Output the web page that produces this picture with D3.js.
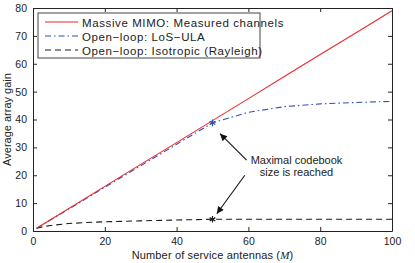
<!DOCTYPE html>
<html>
<head>
<meta charset="utf-8">
<script src="https://cdn.jsdelivr.net/npm/d3@7"></script>
<style>
  body { margin: 0; background: #fff; }
  svg { display: block; font-family: "Liberation Sans", Arial, sans-serif; }
</style>
</head>
<body>
<svg id="chart" width="415" height="263"></svg>
<script>
// number of service antennas
var antennas = [1, 10, 20, 30, 40, 50, 60, 70, 80, 90, 100];
// average array gain
var measured = [1, 8.1, 16.0, 23.9, 31.7, 39.6, 47.5, 55.4, 63.3, 71.1, 79.0];
var losUla = [1, 7.9, 15.7, 23.4, 31.1, 38.8, 42.6, 44.6, 45.6, 46.1, 46.5];
var isoAntennas = [1, 3, 5, 10, 15, 20, 30, 40, 50, 60, 70, 80, 90, 100];
var isotropic = [1, 1.6, 2.0, 2.7, 3.05, 3.3, 3.65, 3.95, 4.2, 4.2, 4.2, 4.2, 4.2, 4.2];
var xTicks = [0, 20, 40, 60, 80, 100];
var yTicks = [0, 10, 20, 30, 40, 50, 60, 70, 80];
var legendNames = ["Massive MIMO: Measured channels", "Open\u2212loop: LoS\u2212ULA", "Open\u2212loop: Isotropic (Rayleigh)"];
var codebookM = 50;

var margin = {top: 8, right: 23, bottom: 32, left: 33};
var width = 415 - margin.left - margin.right;
var height = 263 - margin.top - margin.bottom;

var svg = d3.select("#chart");
var g = svg.append("g")
    .attr("transform", "translate(" + margin.left + "," + margin.top + ")");

var x = d3.scaleLinear().domain([0, 100]).range([0, width]);
var y = d3.scaleLinear().domain([0, 80]).range([height, 0]);

/* axes, matlab style: ticks inside on all four sides */
var tickLen = 4;
g.append("g").attr("class", "ax")
    .attr("transform", "translate(0," + height + ")")
    .call(d3.axisBottom(x).tickValues(xTicks).tickSizeInner(-tickLen).tickSizeOuter(0).tickPadding(7));
g.append("g").attr("class", "ax")
    .call(d3.axisTop(x).tickValues(xTicks).tickSizeInner(-tickLen).tickSizeOuter(0).tickFormat(""));
g.append("g").attr("class", "ax")
    .call(d3.axisLeft(y).tickValues(yTicks).tickSizeInner(-tickLen).tickSizeOuter(0).tickPadding(6));
g.append("g").attr("class", "ax")
    .attr("transform", "translate(" + width + ",0)")
    .call(d3.axisRight(y).tickValues(yTicks).tickSizeInner(-tickLen).tickSizeOuter(0).tickFormat(""));

g.selectAll(".ax path.domain").attr("stroke", "#222").attr("stroke-width", 1);
g.selectAll(".ax line").attr("stroke", "#222");
g.selectAll(".ax text").attr("font-size", "10.5px").attr("fill", "#222")
    .attr("font-family", "Liberation Sans, Arial, sans-serif");

/* curves */
var line = d3.line()
    .x(function(d) { return x(d[0]); })
    .y(function(d) { return y(d[1]); });

var series = [
    {m: antennas, v: measured, color: "#ec2a2e", dash: null},
    {m: antennas, v: losUla, color: "#2f4fb2", dash: "6,3,1.5,3"},
    {m: isoAntennas, v: isotropic, color: "#1a1a1a", dash: "6,4"}
];

// draw isotropic first, then LoS, red on top
[2, 1, 0].forEach(function(i) {
    var s = series[i];
    g.append("path")
        .datum(d3.zip(s.m, s.v))
        .attr("fill", "none")
        .attr("stroke", s.color)
        .attr("stroke-width", 1.1)
        .attr("stroke-dasharray", s.dash)
        .attr("d", line);
});

/* asterisk markers where the codebook saturates */
var star = d3.symbol().type(d3.symbolAsterisk).size(30);
[
    {v: losUla[antennas.indexOf(codebookM)], color: "#2f4fb2"},
    {v: isotropic[isoAntennas.indexOf(codebookM)], color: "#1a1a1a"}
].forEach(function(p) {
    g.append("path")
        .attr("d", star)
        .attr("transform", "translate(" + x(codebookM) + "," + y(p.v) + ")")
        .attr("fill", "none")
        .attr("stroke", p.color)
        .attr("stroke-width", 1.2);
});

/* annotation */
svg.append("defs").append("marker")
    .attr("id", "head")
    .attr("viewBox", "0 0 10 10")
    .attr("refX", 10).attr("refY", 5)
    .attr("markerWidth", 10).attr("markerHeight", 7)
    .attr("markerUnits", "userSpaceOnUse")
    .attr("orient", "auto")
    .append("path")
    .attr("d", "M0,0L10,5L0,10z")
    .attr("fill", "#111");

var arrows = [
    {from: [59.5, 25.4], to: [52.1, 34.9]},
    {from: [59.0, 20.0], to: [51.2, 6.2]}
];
arrows.forEach(function(a) {
    g.append("line")
        .attr("x1", x(a.from[0])).attr("y1", y(a.from[1]))
        .attr("x2", x(a.to[0])).attr("y2", y(a.to[1]))
        .attr("stroke", "#111")
        .attr("stroke-width", 1.1)
        .attr("marker-end", "url(#head)");
});

var note = g.append("text")
    .attr("text-anchor", "middle")
    .attr("font-size", "11px")
    .attr("fill", "#222");
note.append("tspan").attr("x", x(73.4)).attr("y", y(25.4) + 4).text("Maximal codebook");
note.append("tspan").attr("x", x(73.4)).attr("y", y(21.2) + 4).text("size is reached");

/* legend */
var leg = g.append("g").attr("transform", "translate(5,5)");
leg.append("rect")
    .attr("width", 222).attr("height", 45)
    .attr("fill", "#fff")
    .attr("stroke", "#444")
    .attr("stroke-width", 1);

legendNames.forEach(function(name, i) {
    var row = leg.append("g").attr("transform", "translate(0," + (9 + i * 14) + ")");
    row.append("line")
        .attr("x1", 7).attr("x2", 40)
        .attr("stroke", series[i].color)
        .attr("stroke-width", 1.1)
        .attr("stroke-dasharray", series[i].dash);
    row.append("text")
        .attr("x", 44).attr("y", 4.5)
        .attr("font-size", "11.5px")
        .attr("letter-spacing", "0.6px")
        .attr("fill", "#222")
        .text(name);
});

/* axis titles */
var xt = svg.append("text")
    .attr("x", margin.left + width / 2)
    .attr("y", 259)
    .attr("text-anchor", "middle")
    .attr("font-size", "11px")
    .attr("letter-spacing", "0.15px")
    .attr("fill", "#222");
xt.append("tspan").text("Number of service antennas (");
xt.append("tspan").attr("font-style", "italic").attr("font-family", "Liberation Serif, serif").text("M");
xt.append("tspan").text(")");

svg.append("text")
    .attr("transform", "translate(11," + (margin.top + height / 2) + ") rotate(-90)")
    .attr("text-anchor", "middle")
    .attr("font-size", "11px")
    .attr("fill", "#222")
    .text("Average array gain");
</script>
</body>
</html>
